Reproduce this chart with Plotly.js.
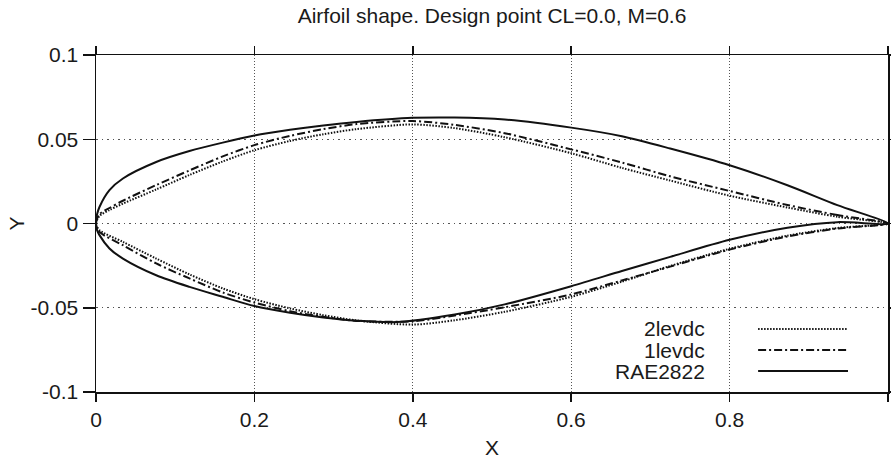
<!DOCTYPE html>
<html>
<head>
<meta charset="utf-8">
<script src="https://cdn.plot.ly/plotly-3.0.1.min.js"></script>
<style>html,body{margin:0;padding:0;background:#fff;}#chart{width:891px;height:463px;}</style>
</head>
<body>
<div id="chart"></div>
<script>
// RAE2822 (solid)
const raeUpperX = [0, 0.001, 0.0044, 0.017, 0.034, 0.076, 0.118, 0.16, 0.2, 0.245, 0.287, 0.329, 0.4, 0.453, 0.516, 0.6, 0.664, 0.725, 0.8, 0.873, 0.936, 1];
const raeUpperY = [0, 0.0048, 0.0098, 0.0198, 0.0267, 0.0365, 0.043, 0.048, 0.0522, 0.0556, 0.0582, 0.0603, 0.0627, 0.0629, 0.0617, 0.0569, 0.0518, 0.0445, 0.0346, 0.0227, 0.0109, 0];
const raeLowerX = [0, 0.001, 0.0044, 0.017, 0.034, 0.076, 0.118, 0.16, 0.2, 0.245, 0.287, 0.329, 0.38, 0.453, 0.516, 0.6, 0.664, 0.725, 0.8, 0.873, 0.936, 1];
const raeLowerY = [0, -0.0035, -0.0069, -0.0148, -0.0208, -0.0307, -0.0376, -0.0435, -0.0490, -0.0530, -0.0558, -0.0577, -0.0585, -0.0540, -0.0480, -0.0372, -0.0282, -0.0198, -0.0097, -0.0025, 0.0008, 0];

// 1levdc (dash-dot)
const lev1UpperX = [0, 0.0044, 0.017, 0.034, 0.076, 0.118, 0.16, 0.2, 0.245, 0.287, 0.329, 0.4, 0.453, 0.516, 0.6, 0.664, 0.725, 0.8, 0.873, 0.936, 1];
const lev1UpperY = [0, 0.0055, 0.0092, 0.0135, 0.0228, 0.0315, 0.0398, 0.0465, 0.0520, 0.0560, 0.0590, 0.0608, 0.0585, 0.0536, 0.0440, 0.0362, 0.0280, 0.0193, 0.0110, 0.0050, 0];
const lev1LowerX = [0, 0.0044, 0.034, 0.076, 0.118, 0.16, 0.2, 0.245, 0.287, 0.329, 0.4, 0.453, 0.516, 0.6, 0.664, 0.725, 0.8, 0.873, 0.936, 1];
const lev1LowerY = [0, -0.0050, -0.0129, -0.0237, -0.0326, -0.0409, -0.0469, -0.0520, -0.0554, -0.0578, -0.0580, -0.0546, -0.0497, -0.0421, -0.0338, -0.0256, -0.0155, -0.0077, -0.0030, 0];

// 2levdc (dotted)
const lev2UpperX = [0, 0.0044, 0.017, 0.034, 0.076, 0.118, 0.16, 0.2, 0.245, 0.287, 0.329, 0.4, 0.453, 0.516, 0.6, 0.664, 0.725, 0.8, 0.873, 0.936, 1];
const lev2UpperY = [0, 0.0045, 0.0080, 0.0118, 0.0202, 0.0288, 0.0368, 0.0435, 0.0490, 0.0530, 0.0560, 0.0588, 0.0566, 0.0512, 0.0417, 0.0330, 0.0255, 0.0165, 0.0095, 0.0040, 0];
const lev2LowerX = [0, 0.0044, 0.034, 0.076, 0.118, 0.16, 0.2, 0.245, 0.287, 0.329, 0.4, 0.453, 0.516, 0.6, 0.664, 0.725, 0.8, 0.873, 0.936, 1];
const lev2LowerY = [0, -0.0040, -0.0109, -0.0208, -0.0302, -0.0385, -0.0449, -0.0504, -0.0544, -0.0575, -0.0600, -0.0574, -0.0524, -0.0435, -0.0345, -0.0252, -0.0150, -0.0072, -0.0027, 0];

const xTickVals = [0, 0.2, 0.4, 0.6, 0.8, 1];
const xTickText = ["0", "0.2", "0.4", "0.6", "0.8", "1"];
const yTickVals = [-0.1, -0.05, 0, 0.05, 0.1];
const yTickText = ["-0.1", "-0.05", "0", "0.05", "0.1"];

const seriesNames = ["2levdc", "1levdc", "RAE2822"];
const seriesDash = ["1.5px,1.5px", "8px,3px,2px,3px", "solid"];

function loop(ux, uy, lx, ly) {
  return {
    x: ux.slice().reverse().concat(lx.slice(1)),
    y: uy.slice().reverse().concat(ly.slice(1))
  };
}

const shapesData = [
  loop(lev2UpperX, lev2UpperY, lev2LowerX, lev2LowerY),
  loop(lev1UpperX, lev1UpperY, lev1LowerX, lev1LowerY),
  loop(raeUpperX, raeUpperY, raeLowerX, raeLowerY)
];

const traces = shapesData.map((d, i) => ({
  type: 'scatter', mode: 'lines', name: seriesNames[i],
  x: d.x, y: d.y,
  line: {color: '#111', width: 2, dash: seriesDash[i], shape: 'spline', smoothing: 0.8},
  hoverinfo: 'skip'
}));

const font = {family: 'Liberation Sans, Arial, sans-serif', size: 21, color: '#1a1a1a'};

// custom legend (text right, sample line on the right)
const legendY = [0.187, 0.1246, 0.0623];
const annotations = seriesNames.map((n, i) => ({
  xref: 'paper', yref: 'paper', x: 0.7715, y: legendY[i],
  xanchor: 'right', yanchor: 'middle', text: n, showarrow: false, font: font
}));
const shapes = seriesNames.map((n, i) => ({
  type: 'line', xref: 'paper', yref: 'paper',
  x0: 0.836, x1: 0.9495, y0: legendY[i], y1: legendY[i],
  line: {color: '#111', width: 2, dash: seriesDash[i]}
}));

const layout = {
  width: 891, height: 463,
  margin: {l: 96, r: 3, t: 55, b: 71},
  paper_bgcolor: '#fff', plot_bgcolor: '#fff',
  showlegend: false,
  font: font,
  title: {text: 'Airfoil shape. Design point CL=0.0, M=0.6', font: font,
          x: 0.5, xref: 'paper', xanchor: 'center', y: 1 - 16/463, yanchor: 'middle'},
  xaxis: {
    range: [0, 1], tickmode: 'array', tickvals: xTickVals, ticktext: xTickText,
    ticks: 'outside', ticklen: 8, tickwidth: 1.5, tickcolor: '#111',
    showline: true, linecolor: '#111', linewidth: 1.5, mirror: 'ticks',
    showgrid: true, gridcolor: '#555', gridwidth: 1, griddash: '1px,2px',
    zeroline: false, tickfont: font,
    title: {text: 'X', font: font, standoff: 10}
  },
  yaxis: {
    range: [-0.1, 0.1], tickmode: 'array', tickvals: yTickVals, ticktext: yTickText,
    ticks: 'outside', ticklen: 12, tickwidth: 1.5, tickcolor: '#111',
    showline: true, linecolor: '#111', linewidth: 1.5, mirror: 'ticks',
    showgrid: true, gridcolor: '#555', gridwidth: 1, griddash: '1.5px,4px',
    zeroline: false, tickfont: font,
    title: {text: 'Y', font: font, standoff: 0}
  },
  annotations: annotations,
  shapes: shapes
};

Plotly.newPlot('chart', traces, layout, {displayModeBar: false, staticPlot: true});
</script>
</body>
</html>
